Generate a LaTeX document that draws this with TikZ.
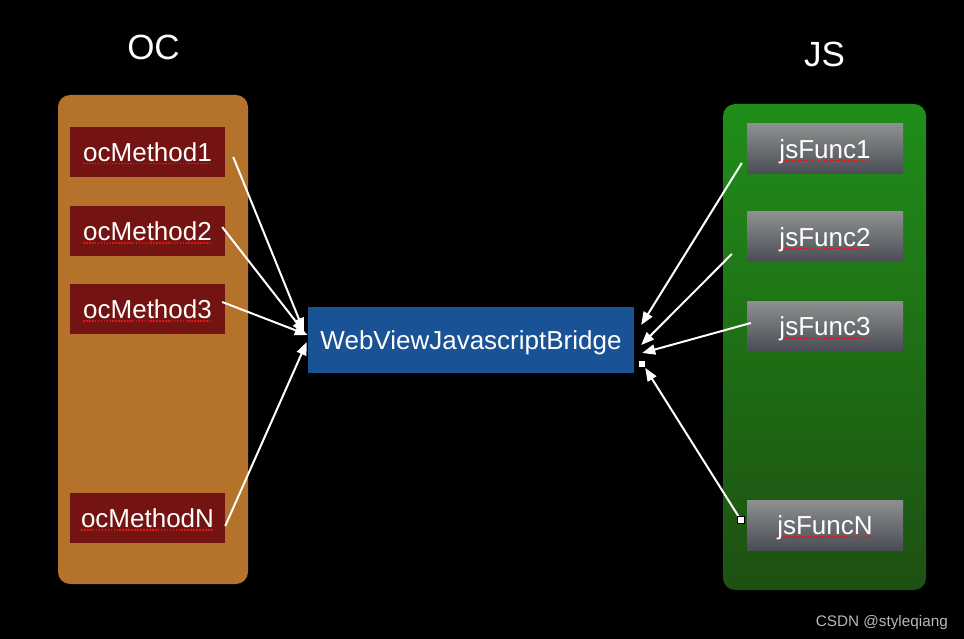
\documentclass[tikz,border=0pt]{standalone}
\usepackage{fontspec}
\setmainfont{Liberation Sans}
\usetikzlibrary{arrows.meta}
\definecolor{ocorange}{RGB}{181,114,42}
\definecolor{ocred}{RGB}{116,20,18}
\definecolor{brblue}{RGB}{26,82,150}
\definecolor{greentop}{RGB}{31,142,25}
\definecolor{greenbot}{RGB}{30,80,18}
\definecolor{graytop}{RGB}{142,144,144}
\definecolor{graybot}{RGB}{74,77,85}
\definecolor{spellred}{RGB}{230,20,20}
\definecolor{wmgray}{RGB}{185,185,185}
\newsavebox\spellbox
\newcommand\spellmark[1]{\sbox\spellbox{#1}\rlap{\hbox to\wd\spellbox{\color{spellred}\xleaders\hbox{\rule[-3pt]{1.6pt}{1.7pt}\kern1.3pt}\hfil}}\usebox\spellbox}
\tikzset{
  boxtext/.style={text=white, font=\fontsize{26}{30}\selectfont, inner sep=0pt, text height=19pt, text depth=0pt},
  ocbox/.style={boxtext, fill=ocred, minimum width=155pt, minimum height=50pt},
  jsbox/.style={boxtext, top color=graytop, bottom color=graybot, minimum width=156pt, minimum height=50pt},
  bridgebox/.style={boxtext, fill=brblue, minimum width=326pt, minimum height=66pt},
  title/.style={text=white, font=\fontsize{35}{40}\selectfont, inner sep=0pt, anchor=base},
  arr/.style={draw=white, line width=2pt, -{Triangle[length=13pt,width=10pt]}},
  handle/.style={draw=black, fill=white, line width=0.8pt, minimum size=7pt, inner sep=0pt},
}
\begin{document}
\begin{tikzpicture}[x=1pt,y=-1pt]
\fill[black] (0,0) rectangle (964,639);
\useasboundingbox (0,0) rectangle (964,639);
% containers
\fill[ocorange, rounded corners=12pt] (58,95) rectangle (248,584);
\path[rounded corners=12pt, top color=greentop, bottom color=greenbot] (723,104) rectangle (926,590);
% titles
\node[title] (toc) at (153.5,59.3) {OC};
\node[title] (tjs) at (824.5,66.7) {JS};
% OC boxes
\node[ocbox] (m1) at (147.5,152) {\spellmark{ocMethod1}};
\node[ocbox] (m2) at (147.5,231) {\spellmark{ocMethod2}};
\node[ocbox] (m3) at (147.5,309) {\spellmark{ocMethod3}};
\node[ocbox] (mN) at (147.5,518) {\spellmark{ocMethodN}};
% JS boxes
\node[jsbox] (j1) at (825,149) {\spellmark{jsFunc1}};
\node[jsbox] (j2) at (825,237) {\spellmark{jsFunc2}};
\node[jsbox] (j3) at (825,326) {\spellmark{jsFunc3}};
\node[jsbox] (jN) at (825,525) {\spellmark{jsFuncN}};
% bridge
\node[bridgebox] (br) at (471,340) {WebViewJavascriptBridge};
% arrows
\draw[arr] ([shift={(8,5)}]m1.east) -- ([shift={(-4,-9)}]br.west);
\draw[arr] ([shift={(-3,-4)}]m2.east) -- ([shift={(-3,-7)}]br.west);
\draw[arr] ([shift={(-3,-7)}]m3.east) -- ([shift={(0,-5)}]br.west);
\draw[arr] ([shift={(0,8)}]mN.east) -- ([shift={(-1,2)}]br.west);
\draw[arr] ([shift={(-5,14)}]j1.west) -- ([shift={(7,-15)}]br.east);
\draw[arr] ([shift={(-15,17)}]j2.west) -- ([shift={(7,5)}]br.east);
\draw[arr] ([shift={(4,-3)}]j3.west) -- ([shift={(8,13)}]br.east);
\draw[arr] ([shift={(-6,-5)}]jN.west) -- ([shift={(11,28)}]br.east);
% selection handles
\node[handle] (h1) at ([shift={(-6,-5)}]jN.west) {};
\node[handle] (h2) at ([shift={(7.5,24)}]br.east) {};
% watermark
\node[anchor=base east, text=wmgray, font=\fontsize{15.3}{18}\selectfont, inner sep=0pt] (wm) at (948,626) {CSDN @styleqiang};
\end{tikzpicture}
\end{document}
